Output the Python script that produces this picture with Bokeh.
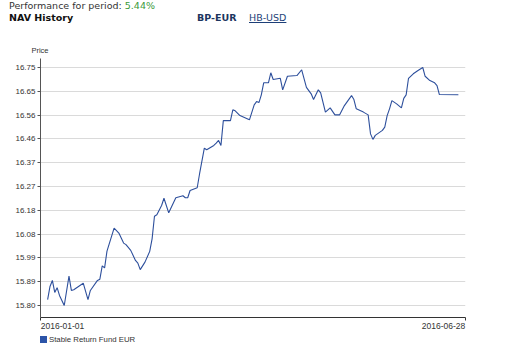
import pandas as pd
from bokeh.plotting import figure
from bokeh.layouts import column
from bokeh.models import (Range1d, FixedTicker, ColumnDataSource, PrintfTickFormatter,
                          CustomJSTickFormatter, Div)
from bokeh.embed import file_html
from bokeh.resources import INLINE

# ---------------- data ----------------
dates = [
    "2016-01-04", "2016-01-05", "2016-01-06", "2016-01-07", "2016-01-08", "2016-01-09",
    "2016-01-11", "2016-01-13", "2016-01-14", "2016-01-15", "2016-01-19", "2016-01-21",
    "2016-01-22", "2016-01-25", "2016-01-26", "2016-01-27", "2016-01-28", "2016-01-29",
    "2016-02-01", "2016-02-03", "2016-02-05", "2016-02-06", "2016-02-08", "2016-02-10",
    "2016-02-11", "2016-02-12", "2016-02-14", "2016-02-16", "2016-02-17", "2016-02-18",
    "2016-02-19", "2016-02-21", "2016-02-22", "2016-02-24", "2016-02-27", "2016-03-01",
    "2016-03-02", "2016-03-03", "2016-03-04", "2016-03-07", "2016-03-08", "2016-03-10",
    "2016-03-11", "2016-03-14", "2016-03-15", "2016-03-16", "2016-03-17", "2016-03-18",
    "2016-03-21", "2016-03-22", "2016-03-23", "2016-03-25", "2016-03-29", "2016-03-31",
    "2016-04-01", "2016-04-02", "2016-04-03", "2016-04-04", "2016-04-06", "2016-04-07",
    "2016-04-08", "2016-04-11", "2016-04-12", "2016-04-14", "2016-04-18", "2016-04-20",
    "2016-04-22", "2016-04-24", "2016-04-25", "2016-04-27", "2016-04-28", "2016-04-30",
    "2016-05-02", "2016-05-04", "2016-05-06", "2016-05-08", "2016-05-11", "2016-05-12",
    "2016-05-13", "2016-05-16", "2016-05-18", "2016-05-19", "2016-05-20", "2016-05-21",
    "2016-05-24", "2016-05-25", "2016-05-26", "2016-05-27", "2016-05-28", "2016-05-30",
    "2016-06-01", "2016-06-02", "2016-06-03", "2016-06-04", "2016-06-06", "2016-06-08",
    "2016-06-10", "2016-06-11", "2016-06-13", "2016-06-15", "2016-06-16", "2016-06-17",
    "2016-06-25",
]
nav = [
    15.820, 15.873, 15.897, 15.849, 15.868, 15.837,
    15.797, 15.914, 15.857, 15.860, 15.886, 15.820,
    15.857, 15.897, 15.902, 15.955, 15.947, 16.014,
    16.106, 16.086, 16.046, 16.040, 16.017, 15.977,
    15.966, 15.940, 15.970, 16.013, 16.063, 16.153,
    16.159, 16.196, 16.225, 16.167, 16.227, 16.235,
    16.227, 16.227, 16.256, 16.267, 16.323, 16.425,
    16.419, 16.436, 16.445, 16.456, 16.436, 16.535,
    16.535, 16.578, 16.574, 16.555, 16.538, 16.598,
    16.611, 16.607, 16.638, 16.686, 16.686, 16.726,
    16.699, 16.704, 16.658, 16.712, 16.715, 16.738,
    16.668, 16.642, 16.619, 16.658, 16.646, 16.569,
    16.586, 16.558, 16.558, 16.595, 16.635, 16.619,
    16.582, 16.569, 16.558, 16.482, 16.460, 16.476,
    16.496, 16.509, 16.555, 16.582, 16.615, 16.602,
    16.586, 16.624, 16.638, 16.704, 16.722, 16.735,
    16.747, 16.712, 16.695, 16.686, 16.675, 16.639,
    16.638,
]
y_ticks = [15.797, 15.892, 15.987, 16.082, 16.177, 16.272, 16.367, 16.462, 16.557, 16.652, 16.747]
x_tick_labels = ["2016-01-01", "2016-06-28"]
series_name = "Stable Return Fund EUR"
performance_text = "Performance for period:"
performance_value = "5.44%"
title_text = "NAV History"
tab_active = "BP-EUR"
tab_link = "HB-USD"
y_title = "Price"

# ---------------- layout constants (page pixels) ----------------
W = 520
TOP_H = 58            # header strip above the plot frame
FRAME_H = 259
BOTTOM_BORDER = 16
FL, FR = 40, 465      # frame left / right
Y0, Y1 = 15.749, 16.783
LABEL_HALF_PX = 22.0  # half width of a date label, to align it with the axis ends

x_start = pd.Timestamp(x_tick_labels[0])
x_end = pd.Timestamp(x_tick_labels[1])
x_start_ms = x_start.value / 1e6
x_end_ms = x_end.value / 1e6
ms_per_px = (x_end_ms - x_start_ms) / (FR - FL)

# ---------------- header ----------------
header_html = f"""
<div style="position:relative;width:{W}px;height:{TOP_H}px;font-family:'DejaVu Sans',sans-serif;">
  <span style="position:absolute;left:9px;top:0.5px;font-size:9.5px;line-height:1;color:#333333;white-space:nowrap;">{performance_text} <span style="color:#3a9a3a;">{performance_value}</span></span>
  <span style="position:absolute;left:9px;top:12.5px;font-size:9.5px;line-height:1;font-weight:bold;color:#111111;white-space:nowrap;">{title_text}</span>
  <span style="position:absolute;left:197px;top:12.5px;font-size:9.5px;line-height:1;font-weight:bold;color:#1c3560;white-space:nowrap;">{tab_active}</span>
  <span style="position:absolute;left:249px;top:12.5px;font-size:9.5px;line-height:1;color:#1d3f78;text-decoration:underline;white-space:nowrap;">{tab_link}</span>
  <span style="position:absolute;left:{FL - 9}px;width:18px;text-align:center;top:46.5px;font-family:'Liberation Sans',Arial,sans-serif;font-size:7.5px;line-height:1;color:#333333;white-space:nowrap;">{y_title}</span>
</div>
"""
top_div = Div(text=header_html, width=W, height=TOP_H, margin=0)

# ---------------- figure ----------------
src = ColumnDataSource(dict(date=pd.to_datetime(dates), nav=nav))

p = figure(width=W, height=FRAME_H + BOTTOM_BORDER, x_axis_type="datetime",
           x_range=Range1d(x_start, x_end), y_range=Range1d(Y0, Y1),
           output_backend="svg", toolbar_location=None, margin=0,
           min_border_left=FL, min_border_right=W - FR, min_border_top=0,
           min_border_bottom=BOTTOM_BORDER)
p.outline_line_color = None
p.background_fill_color = "white"
p.border_fill_color = "white"

p.line("date", "nav", source=src, line_color="#2d4f9c", line_width=1.1)

# y axis
yax = p.yaxis[0]
yax.ticker = FixedTicker(ticks=y_ticks)
yax.formatter = PrintfTickFormatter(format="%.2f")
yax.major_label_text_font = "Liberation Sans"
yax.major_label_text_font_size = "8px"
yax.major_label_text_color = "#333333"
yax.major_label_standoff = 2
yax.major_tick_in = 0
yax.major_tick_out = 3
yax.minor_tick_out = 0
yax.minor_tick_in = 0
yax.axis_line_color = "#555555"
yax.major_tick_line_color = "#555555"

p.ygrid[0].ticker = FixedTicker(ticks=y_ticks)
p.ygrid[0].grid_line_color = "#dadada"
p.xgrid[0].visible = False

# x axis: end ticks as minor ticks, date labels aligned with the ends
xax = p.xaxis[0]
xax.ticker = FixedTicker(ticks=[x_start_ms + LABEL_HALF_PX * ms_per_px,
                                x_end_ms - LABEL_HALF_PX * ms_per_px],
                         minor_ticks=[x_start_ms, x_end_ms])
xax.formatter = CustomJSTickFormatter(args=dict(labels=x_tick_labels), code="return labels[index];")
xax.major_label_text_font = "Liberation Sans"
xax.major_label_text_font_size = "8.5px"
xax.major_label_text_color = "#333333"
xax.major_label_standoff = 2
xax.major_tick_in = 0
xax.major_tick_out = 0
xax.minor_tick_in = 0
xax.minor_tick_out = 3
xax.axis_line_color = "#333333"
xax.minor_tick_line_color = "#333333"

# ---------------- legend strip ----------------
legend_html = f"""
<div style="position:relative;width:{W}px;height:20px;font-family:'Liberation Sans',Arial,sans-serif;">
  <span style="position:absolute;left:{FL}px;top:3px;width:7px;height:7px;background:#2c54a8;"></span>
  <span style="position:absolute;left:{FL + 9}px;top:2.5px;font-size:7.8px;line-height:1;color:#333333;white-space:nowrap;">{series_name}</span>
</div>
"""
bottom_div = Div(text=legend_html, width=W, height=20, margin=0)

layout = column(top_div, p, bottom_div, spacing=0, margin=0)

open("out.html", "w").write(file_html(layout, INLINE))
